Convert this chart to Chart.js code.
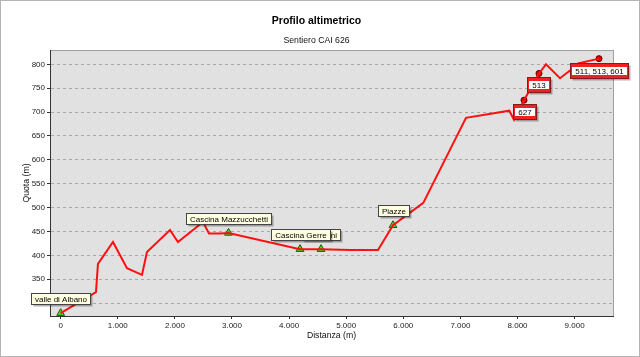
<!DOCTYPE html>
<html>
<head>
<meta charset="utf-8">
<script src="https://cdn.jsdelivr.net/npm/chart.js@4"></script>
<style>
  html, body { margin: 0; padding: 0; background: #fff; }
  #wrap { width: 640px; height: 357px; }
</style>
</head>
<body>
<div id="wrap"><canvas id="grafico"></canvas></div>
<script>
// profilo altimetrico
const distanza = [0, 618, 653, 916, 1161, 1424, 1511, 1914, 2054, 2492, 2597, 2790, 2939, 4191, 4559, 5067, 5557, 5820, 6350, 7098, 7856, 7939, 8114, 8376, 8499, 8744, 8919, 9059, 9427];
const quota = [279, 323, 382, 428, 373, 359, 407, 453, 428, 470, 446, 446, 447, 413, 413, 411, 411, 463, 510, 688, 703, 684, 725, 781, 800, 771, 787, 802, 812];

// punti notevoli (triangoli verdi)
const luoghiNomi = ['valle di Albano', 'Cascina Mazzucchetti', 'Cascina Gerre', 'Ronchini', 'Piazze'];
const luoghiDist = [0, 2939, 4191, 4559, 5820];
const luoghiQuota = [279, 447, 413, 413, 463];

// bivi sentieri (pallini rossi)
const biviNomi = ['627', '513', '511, 513, 601'];
const biviDist = [8114, 8376, 9427];
const biviQuota = [725, 781, 812];

const xTicks = [0, 1000, 2000, 3000, 4000, 5000, 6000, 7000, 8000, 9000];
const yTicks = [300, 350, 400, 450, 500, 550, 600, 650, 700, 750, 800];

const FONT = '"Liberation Sans", Arial, sans-serif';
const fmt = v => v.toString().replace(/\B(?=(\d{3})+(?!\d))/g, '.');

const sfondo = {
  id: 'sfondo',
  beforeDraw(chart) {
    const ctx = chart.ctx;
    const a = chart.chartArea;
    ctx.save();
    ctx.fillStyle = '#fff';
    ctx.fillRect(0, 0, chart.width, chart.height);
    ctx.strokeStyle = '#b4b4b4';
    ctx.lineWidth = 1;
    ctx.strokeRect(0.5, 0.5, chart.width - 1, chart.height - 1);
    ctx.fillStyle = '#e1e1e1';
    ctx.fillRect(a.left, a.top, a.right - a.left, a.bottom - a.top);
    ctx.strokeStyle = '#a0a0a0';
    ctx.strokeRect(a.left + 0.5, a.top + 0.5, a.right - a.left, a.bottom - a.top);
    ctx.restore();
  }
};

const etichette = {
  id: 'etichette',
  afterDatasetsDraw(chart) {
    const ctx = chart.ctx;
    const sx = chart.scales.x, sy = chart.scales.y;
    ctx.save();
    ctx.font = '8px ' + FONT;
    ctx.textAlign = 'center';
    ctx.textBaseline = 'middle';

    // etichette gialle sopra i triangoli (al contrario, cosi' Gerre copre Ronchini)
    for (let i = luoghiNomi.length - 1; i >= 0; i--) {
      const px = sx.getPixelForValue(luoghiDist[i]);
      const py = sy.getPixelForValue(luoghiQuota[i]);
      const w = Math.round(ctx.measureText(luoghiNomi[i]).width + 7);
      const h = 11;
      const bx = Math.round(px - w / 2) + 0.5;
      const by = Math.round(py - 9 - h) + 0.5;
      ctx.fillStyle = 'rgba(0,0,0,0.3)';
      ctx.fillRect(bx + 2, by + 2, w, h);
      ctx.fillStyle = '#ffffe1';
      ctx.fillRect(bx, by, w, h);
      ctx.strokeStyle = '#444';
      ctx.lineWidth = 1;
      ctx.strokeRect(bx, by, w, h);
      ctx.fillStyle = '#000';
      ctx.fillText(luoghiNomi[i], bx + w / 2, by + h / 2 + 0.5);
    }

    // etichette rosse sotto i pallini
    biviNomi.forEach((nome, i) => {
      const px = sx.getPixelForValue(biviDist[i]);
      const py = sy.getPixelForValue(biviQuota[i]);
      const w = Math.round(ctx.measureText(nome).width + 10);
      const h = 15;
      const bx = Math.round(px - w / 2) + 0.5;
      const by = Math.round(py + 4) + 0.5;
      ctx.fillStyle = 'rgba(0,0,0,0.3)';
      ctx.fillRect(bx + 2, by + 2, w, h);
      ctx.fillStyle = '#ee2222';
      ctx.fillRect(bx, by, w, h);
      ctx.fillStyle = '#fff';
      ctx.fillRect(bx + 1.5, by + 3.5, w - 3, h - 7);
      ctx.strokeStyle = '#8a1a1a';
      ctx.lineWidth = 1;
      ctx.strokeRect(bx, by, w, h);
      ctx.fillStyle = '#000';
      ctx.fillText(nome, bx + w / 2, by + h / 2 + 0.5);
    });
    ctx.restore();
  }
};

new Chart(document.getElementById('grafico'), {
  type: 'scatter',
  data: {
    datasets: [
      {
        label: 'profilo',
        data: distanza.map((d, i) => ({ x: d, y: quota[i] })),
        showLine: true,
        borderColor: '#ff1010',
        borderWidth: 2,
        pointRadius: 0,
        tension: 0
      },
      {
        label: 'luoghi',
        data: luoghiDist.map((d, i) => ({ x: d, y: luoghiQuota[i] })),
        pointStyle: 'triangle',
        pointRadius: 4.5,
        backgroundColor: '#3ddc1a',
        borderColor: '#1f5a10',
        borderWidth: 1
      },
      {
        label: 'bivi',
        data: biviDist.map((d, i) => ({ x: d, y: biviQuota[i] })),
        pointStyle: 'circle',
        pointRadius: 3,
        backgroundColor: '#e00000',
        borderColor: '#5a0000',
        borderWidth: 1
      }
    ]
  },
  options: {
    responsive: true,
    maintainAspectRatio: false,
    animation: false,
    events: [],
    layout: { padding: { left: 20, right: 27, top: 0, bottom: 0 } },
    plugins: {
      legend: { display: false },
      tooltip: { enabled: false },
      title: {
        display: true,
        text: 'Profilo altimetrico',
        color: '#000',
        font: { family: FONT, size: 10.5, weight: 'bold' },
        padding: { top: 15, bottom: 0 }
      },
      subtitle: {
        display: true,
        text: 'Sentiero CAI 626',
        color: '#111',
        font: { family: FONT, size: 8.7 },
        padding: { top: 8, bottom: 4 }
      }
    },
    scales: {
      x: {
        type: 'linear',
        min: -187,
        max: 9672,
        afterBuildTicks: s => { s.ticks = xTicks.map(v => ({ value: v })); },
        afterFit: s => { s.height = 41; },
        ticks: {
          color: '#222',
          font: { family: FONT, size: 8 },
          padding: 2,
          maxRotation: 0,
          callback: v => fmt(v)
        },
        grid: { drawOnChartArea: false, drawTicks: true, tickLength: 3, tickColor: '#333' },
        border: { color: '#333', width: 1 },
        title: {
          display: true,
          text: 'Distanza (m)',
          color: '#111',
          font: { family: FONT, size: 8.7 },
          padding: { top: 0, bottom: 16 }
        }
      },
      y: {
        type: 'linear',
        min: 273,
        max: 830,
        afterBuildTicks: s => { s.ticks = yTicks.map(v => ({ value: v })); },
        afterFit: s => { s.width = 30; },
        ticks: {
          color: '#222',
          font: { family: FONT, size: 8 },
          padding: 2
        },
        grid: { color: '#a8a8a8', lineWidth: 1, drawTicks: true, tickLength: 3, tickColor: '#333' },
        border: { color: '#333', width: 1, dash: [3, 3] },
        title: {
          display: true,
          text: 'Quota (m)',
          color: '#111',
          font: { family: FONT, size: 8.7 },
          padding: { top: 1, bottom: 0 }
        }
      }
    }
  },
  plugins: [sfondo, etichette]
});
</script>
</body>
</html>
